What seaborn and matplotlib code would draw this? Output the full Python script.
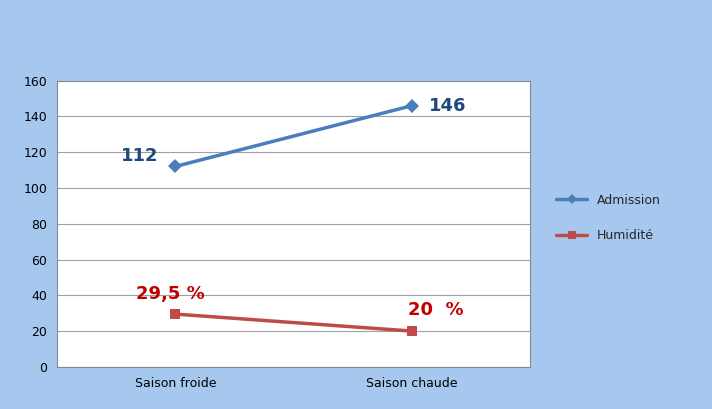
import matplotlib
matplotlib.use("Agg")
import matplotlib.pyplot as plt
import seaborn as sns
import pandas as pd

categories = ["Saison froide", "Saison chaude"]
admission = [112, 146]
humidite = [29.5, 20]
adm_labels = ["112", "146"]
hum_labels = ["29,5 %", "20  %"]

sns.set_style("white")
plt.rcParams['font.family'] = ['DejaVu Sans']

fig = plt.figure(figsize=(7.12, 4.09), dpi=100, facecolor="#a6c8ef")
ax = fig.add_axes([0.08, 0.103, 0.665, 0.70])
ax.set_facecolor("white")

df = pd.DataFrame({"cat": categories * 2,
                   "val": admission + humidite,
                   "serie": ["Admission"] * 2 + ["Humidité"] * 2})
palette = {"Admission": "#4a7ebb", "Humidité": "#be4b48"}
sns.lineplot(data=df, x="cat", y="val", hue="serie", style="serie",
             markers={"Admission": "D", "Humidité": "s"}, dashes=False,
             palette=palette, linewidth=2.5, markersize=7, markeredgewidth=0,
             ax=ax, sort=False)

ax.set_xlim(-0.5, 1.5)
ax.set_ylim(0, 160)
ax.set_yticks(range(0, 161, 20))
ax.yaxis.grid(True, color="#a0a0a0", linewidth=0.8)
ax.set_xlabel("")
ax.set_ylabel("")
ax.tick_params(labelsize=9, colors="black")
for s in ax.spines.values():
    s.set_color("#888888")
    s.set_linewidth(0.8)

ax.text(0 - 0.07, admission[0] + 6, adm_labels[0], ha="right", va="center",
        fontsize=13, fontweight="bold", color="#1f497d")
ax.text(1 + 0.07, admission[1], adm_labels[1], ha="left", va="center",
        fontsize=13, fontweight="bold", color="#1f497d")
ax.text(0 - 0.02, humidite[0] + 11, hum_labels[0], ha="center", va="center",
        fontsize=13, fontweight="bold", color="#c00000")
ax.text(1 + 0.1, humidite[1] + 12, hum_labels[1], ha="center", va="center",
        fontsize=13, fontweight="bold", color="#c00000")

leg = ax.legend(loc="center left", bbox_to_anchor=(1.03, 0.52), frameon=False,
                fontsize=9, handlelength=2.5, labelspacing=1.8, markerscale=0.8)

fig.savefig("out.png", dpi=100, facecolor=fig.get_facecolor())
